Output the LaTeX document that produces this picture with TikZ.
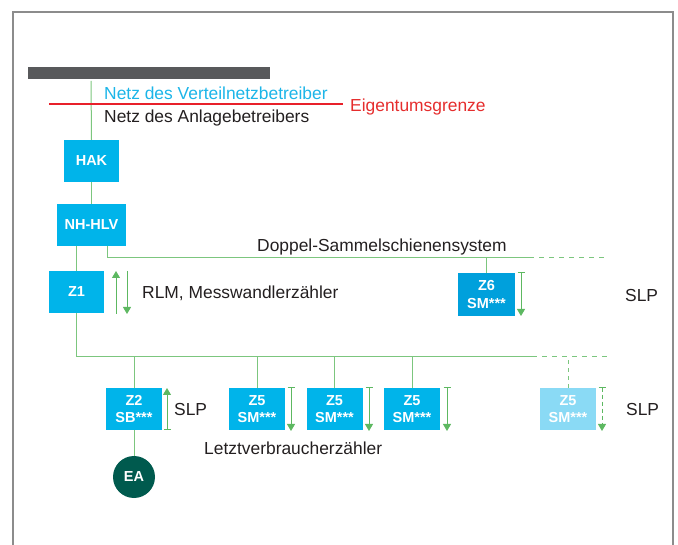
\documentclass[tikz,border=0pt]{standalone}
\usepackage{fontspec}
\setmainfont{Liberation Sans}
\usetikzlibrary{arrows.meta}
\definecolor{boxblue}{HTML}{00B4EA}
\definecolor{darkblue}{HTML}{00A0DC}
\definecolor{lightblue}{HTML}{8ADAF5}
\definecolor{eagreen}{HTML}{005A4E}
\definecolor{bargray}{HTML}{58595B}
\definecolor{framegray}{HTML}{8C8C8C}
\definecolor{linegreen}{HTML}{7CC67E}
\definecolor{arrowgreen}{HTML}{5DB861}
\definecolor{txtblue}{HTML}{1CB5E8}
\definecolor{txtred}{HTML}{E52D2D}
\definecolor{linered}{HTML}{E8202A}
\definecolor{txtdark}{HTML}{231F20}
\tikzset{
  meterbox/.style={fill=boxblue, draw=none, inner sep=0pt, minimum width=56pt, minimum height=42pt,
    text=white, font=\fontsize{14.5}{17.5}\selectfont\bfseries, align=center},
  conn/.style={draw=linegreen, line width=1pt},
  flow/.style={draw=arrowgreen, line width=1pt, -{Triangle[width=8pt,length=7pt]}},
  tflow/.style={draw=arrowgreen, line width=1pt, {Bar[width=7pt,line width=0.8pt]}-{Triangle[width=8pt,length=7pt]}},
  lbl/.style={inner sep=0pt, anchor=base west, font=\fontsize{17.4}{20}\selectfont, text=txtdark},
}
\begin{document}
\begin{tikzpicture}[x=1pt,y=-1pt]
\useasboundingbox (0,0) rectangle (678,545);
% frame
\draw[framegray, line width=1.5pt] (13,545) -- (13,12) -- (673,12) -- (673,545);
% gray bar
\fill[bargray] (28,67) rectangle (270,79);
% boxes
\node[meterbox, minimum width=55pt] (hak) at (91.5,161) {HAK};
\node[meterbox, minimum width=69pt] (nh) at (91.5,225) {NH-HLV};
\node[meterbox, minimum width=55pt] (z1) at (76.5,292) {Z1};
\node[meterbox, fill=darkblue, minimum width=57pt, minimum height=43pt] (z6) at (486.5,294.5) {Z6\\SM***};
\node[meterbox] (z2) at (134,409) {Z2\\SB***};
\node[meterbox] (z5a) at (257,409) {Z5\\SM***};
\node[meterbox] (z5b) at (334.5,409) {Z5\\SM***};
\node[meterbox] (z5c) at (412,409) {Z5\\SM***};
\node[meterbox, fill=lightblue] (z5d) at (568,409) {Z5\\SM***};
\node[circle, fill=eagreen, inner sep=0pt, minimum size=42pt, text=white, font=\fontsize{14.5}{17}\selectfont\bfseries] (ea) at (134,477) {EA};
% coordinates
\coordinate (top) at (91,81);
\coordinate (nhr) at (107,246);
\coordinate (b1) at (107,258);
\coordinate (b1s) at (529,258);
\coordinate (b1e) at (607,258);
\coordinate (b2) at (76.5,357);
\coordinate (b2s) at (532,357);
\coordinate (b2e) at (607,357);
\coordinate (rl) at (49,104);
\coordinate (rr) at (343,104);
% top line
\draw[conn] (top) -- (hak.north);
\draw[linered, line width=2pt] (rl) -- (rr);
\draw[conn] (hak.south) -- (nh.north);
\draw[conn] (z1.north) -- (z1.north |- nh.south);
% bus 1
\draw[conn] (nhr) -- (b1) -- (b1s);
\draw[conn, dash pattern=on 5pt off 5pt] (b1s) -- (b1e);
\draw[conn] (z6.north) -- (z6.north |- b1);
% bus 2
\draw[conn] (z1.south) -- (b2) -- (b2s);
\draw[conn, dash pattern=on 5pt off 5pt] (b2s) -- (b2e);
\foreach \n in {z2,z5a,z5b,z5c}{\draw[conn] (\n.north) -- (\n.north |- b2);}
\draw[conn, dash pattern=on 4pt off 4pt] (z5d.north) -- (z5d.north |- b2);
\draw[conn] (z2.south) -- (ea.north);
% flow arrows
\coordinate (a1s) at (116,314); \coordinate (a1e) at (116,271);
\coordinate (a2s) at (127,271); \coordinate (a2e) at (127,314);
\draw[flow] (a1s) -- (a1e);
\draw[flow] (a2s) -- (a2e);
\coordinate (a6s) at (521,272); \coordinate (a6e) at (521,316);
\draw[tflow] (a6s) -- (a6e);
\coordinate (a7s) at (167,430); \coordinate (a7e) at (167,388);
\draw[tflow] (a7s) -- (a7e);
\foreach \x/\i in {291/a, 369/b, 447/c}{
  \coordinate (d\i s) at (\x,387); \coordinate (d\i e) at (\x,431);
  \draw[tflow] (d\i s) -- (d\i e);
}
\coordinate (dds) at (602,387); \coordinate (dde) at (602,431);
\draw[tflow, dash pattern=on 4pt off 3pt] (dds) -- (dde);
% labels
\node[lbl, text=txtblue] (nvb) at (104,99.5) {Netz des Verteilnetzbetreiber};
\node[lbl] (nab) at (104,123) {Netz des Anlagebetreibers};
\node[lbl, text=txtred] (eig) at (350,112) {Eigentumsgrenze};
\node[lbl] (dss) at (257,252) {Doppel-Sammelschienensystem};
\node[lbl] (rlm) at (142,299) {RLM, Messwandlerzähler};
\node[lbl] (slp1) at (625,302) {SLP};
\node[lbl] (slp2) at (174,416) {SLP};
\node[lbl] (slp3) at (626,416) {SLP};
\node[lbl] (lvz) at (204,455) {Letztverbraucherzähler};
\end{tikzpicture}
\end{document}
